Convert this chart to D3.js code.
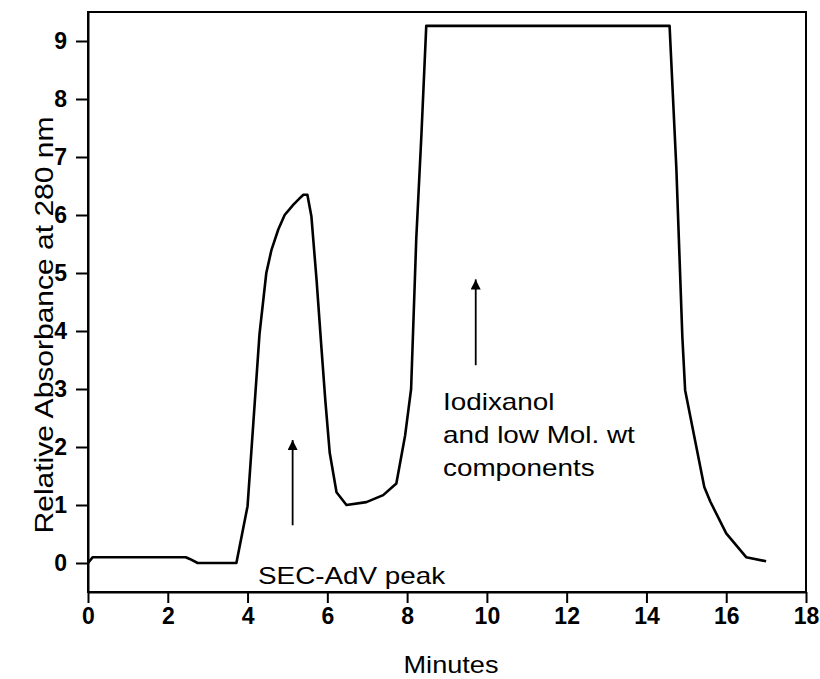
<!DOCTYPE html>
<html>
<head>
<meta charset="utf-8">
<script src="https://cdn.jsdelivr.net/npm/d3@7"></script>
<style>
  body { margin: 0; background: #fff; }
  text { font-family: "Liberation Sans", Arial, sans-serif; fill: #000; }
</style>
</head>
<body>
<script>
// chromatogram trace (minutes, relative absorbance)
var minutes = [0, 0.12, 2.45, 2.55, 2.75, 3.72, 4.0, 4.3, 4.47, 4.6, 4.77, 4.93, 5.15, 5.31, 5.4, 5.5,
    5.6, 5.73, 5.85, 5.95, 6.06, 6.23, 6.48, 6.98, 7.4, 7.73, 7.95, 8.1, 8.23, 8.36, 8.48,
    14.58, 14.75, 14.9, 14.97, 15.45, 15.6, 16.0, 16.5, 17.0];
var absorbance = [0, 0.1, 0.1, 0.07, 0, 0, 0.98, 3.95, 5.0, 5.4, 5.75, 6.0, 6.18, 6.29, 6.35, 6.35,
    5.98, 4.88, 3.73, 2.8, 1.9, 1.22, 1.0, 1.05, 1.17, 1.37, 2.2, 3.0, 5.6, 7.4, 9.26,
    9.26, 6.8, 3.9, 2.98, 1.31, 1.06, 0.51, 0.1, 0.03];

var xTicks = [0, 2, 4, 6, 8, 10, 12, 14, 16, 18];
var yTicks = [0, 1, 2, 3, 4, 5, 6, 7, 8, 9];

// arrows: x position, start and tip (data units)
var arrowX = [5.13, 9.72];
var arrowFrom = [0.65, 3.41];
var arrowTo = [2.12, 4.89];

//Width and height
var w = 820;
var h = 679;
var pLeft = 88, pRight = 806, pTop = 12, pBottom = 592;

var xScale = d3.scaleLinear().domain([0, 18]).range([pLeft, pRight]);
var yScale = d3.scaleLinear().domain([-0.5, 9.5]).range([pBottom, pTop]);

var svg = d3.select("body")
    .append("svg")
    .attr("width", w)
    .attr("height", h);

//Frame
svg.append("rect")
    .attr("x", pLeft)
    .attr("y", pTop)
    .attr("width", pRight - pLeft)
    .attr("height", pBottom - pTop)
    .attr("fill", "none")
    .attr("stroke", "#000")
    .attr("stroke-width", 2);

//Axes
var xAxis = d3.axisBottom(xScale).tickValues(xTicks).tickSize(11).tickPadding(4).tickSizeOuter(0);
var yAxis = d3.axisLeft(yScale).tickValues(yTicks).tickSize(12).tickPadding(9).tickSizeOuter(0);

var gx = svg.append("g")
    .attr("transform", "translate(0," + pBottom + ")")
    .call(xAxis);
var gy = svg.append("g")
    .attr("transform", "translate(" + pLeft + ",0)")
    .call(yAxis);

[gx, gy].forEach(function (g) {
    g.attr("font-size", null).attr("font-family", null);
    g.select(".domain").attr("stroke-width", 2);
    g.selectAll(".tick line").attr("stroke-width", 2);
    g.selectAll(".tick text")
        .style("font-size", "23px")
        .style("font-weight", "bold");
});
gx.selectAll(".tick text").attr("dy", "0.75em");

//Trace
var line = d3.line()
    .x(function (d) { return xScale(d[0]); })
    .y(function (d) { return yScale(d[1]); });

svg.append("path")
    .datum(d3.zip(minutes, absorbance))
    .attr("d", line)
    .attr("fill", "none")
    .attr("stroke", "#000")
    .attr("stroke-width", 2.6)
    .attr("stroke-linejoin", "round");

//Arrows
svg.append("defs").append("marker")
    .attr("id", "head")
    .attr("viewBox", "0 0 10 10")
    .attr("refX", 10)
    .attr("refY", 5)
    .attr("markerUnits", "userSpaceOnUse")
    .attr("markerWidth", 16)
    .attr("markerHeight", 10)
    .attr("orient", "auto")
    .append("path")
    .attr("d", "M0,0 L10,5 L0,10 Z")
    .attr("fill", "#000");

svg.selectAll(".arrow")
    .data(arrowX)
    .enter()
    .append("line")
    .attr("class", "arrow")
    .attr("x1", function (d) { return xScale(d); })
    .attr("x2", function (d) { return xScale(d); })
    .attr("y1", function (d, i) { return yScale(arrowFrom[i]); })
    .attr("y2", function (d, i) { return yScale(arrowTo[i]); })
    .attr("stroke", "#000")
    .attr("stroke-width", 1.8)
    .attr("marker-end", "url(#head)");

//Labels (slightly widened type, as in the scan)
function label(txt, x, y, rot, size, sx, anchor) {
    svg.append("text")
        .attr("transform", "translate(" + x + "," + y + ")" + (rot ? " rotate(" + rot + ")" : "") + " scale(" + sx + ",1)")
        .attr("text-anchor", anchor)
        .style("font-size", size + "px")
        .text(txt);
}

label("SEC-AdV peak", 258, 584, 0, 24, 1.16, "start");
label("Iodixanol", 443, 410, 0, 24, 1.16, "start");
label("and low Mol. wt", 443, 443, 0, 24, 1.16, "start");
label("components", 443, 476, 0, 24, 1.16, "start");
label("Minutes", 451, 673, 0, 24, 1.13, "middle");
label("Relative Absorbance at 280 nm", 53, 325, -90, 25, 1.2, "middle");
</script>
</body>
</html>
